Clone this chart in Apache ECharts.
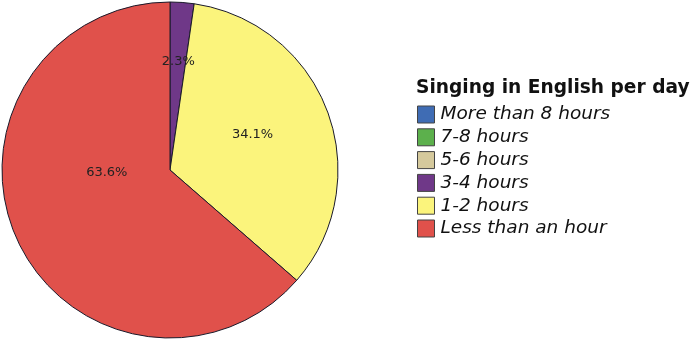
<!DOCTYPE html>
<html>
<head>
<meta charset="utf-8">
<script src="https://cdn.jsdelivr.net/npm/echarts@6/dist/echarts.min.js"></script>
<style>
  html, body { margin: 0; padding: 0; background: #fff; }
  #chart { width: 696px; height: 340px; }
</style>
</head>
<body>
<div id="chart"></div>
<script>
// Share of respondents by daily time spent singing in English (percent)
const categories = ['More than 8 hours', '7-8 hours', '5-6 hours', '3-4 hours', '1-2 hours', 'Less than an hour'];
const shares = [0, 0, 0, 2.3, 34.1, 63.6];
const colors = ['#3F6CB4', '#5CB04C', '#D5C99C', '#6F3888', '#FBF47C', '#E0514B'];
const legendTitle = 'Singing in English per day';

// nudges for the value labels, per slice
const labelNudge = [[0, 0], [0, 0], [0, 0], [2, -22], [1, -5], [16, -33]];

const chart = echarts.init(document.getElementById('chart'), null, { renderer: 'canvas' });

chart.setOption({
  animation: false,
  backgroundColor: '#ffffff',
  title: {
    text: legendTitle,
    left: 416,
    top: 79,
    padding: 0,
    textStyle: { fontFamily: 'DejaVu Sans', fontWeight: 'bold', fontSize: 18.6, color: '#111' }
  },
  legend: {
    orient: 'vertical',
    left: 417,
    top: 105,
    padding: 0,
    icon: 'rect',
    itemWidth: 17,
    itemHeight: 17,
    itemGap: 3.8,
    data: categories,
    itemStyle: { borderColor: '#444', borderWidth: 1 },
    textStyle: {
      fontFamily: 'DejaVu Sans',
      fontStyle: 'italic',
      fontSize: 18.5,
      lineHeight: 17,
      color: '#111',
      padding: [0, 0, 0, 1]
    }
  },
  series: [{
    type: 'pie',
    center: [170, 170],
    radius: 168,
    startAngle: 90,
    clockwise: true,
    avoidLabelOverlap: false,
    label: {
      show: true,
      position: 'inside',
      formatter: p => p.value > 0 ? p.value.toFixed(1) + '%' : '',
      fontFamily: 'DejaVu Sans',
      fontSize: 13,
      color: '#222'
    },
    labelLine: { show: false },
    labelLayout: p => ({ dx: labelNudge[p.dataIndex][0], dy: labelNudge[p.dataIndex][1] }),
    emphasis: { disabled: true },
    data: categories.map((name, i) => ({
      name: name,
      value: shares[i],
      itemStyle: {
        color: colors[i],
        borderColor: '#1a1a2a',
        borderWidth: shares[i] > 0 ? 1 : 0
      }
    }))
  }]
});
</script>
</body>
</html>
